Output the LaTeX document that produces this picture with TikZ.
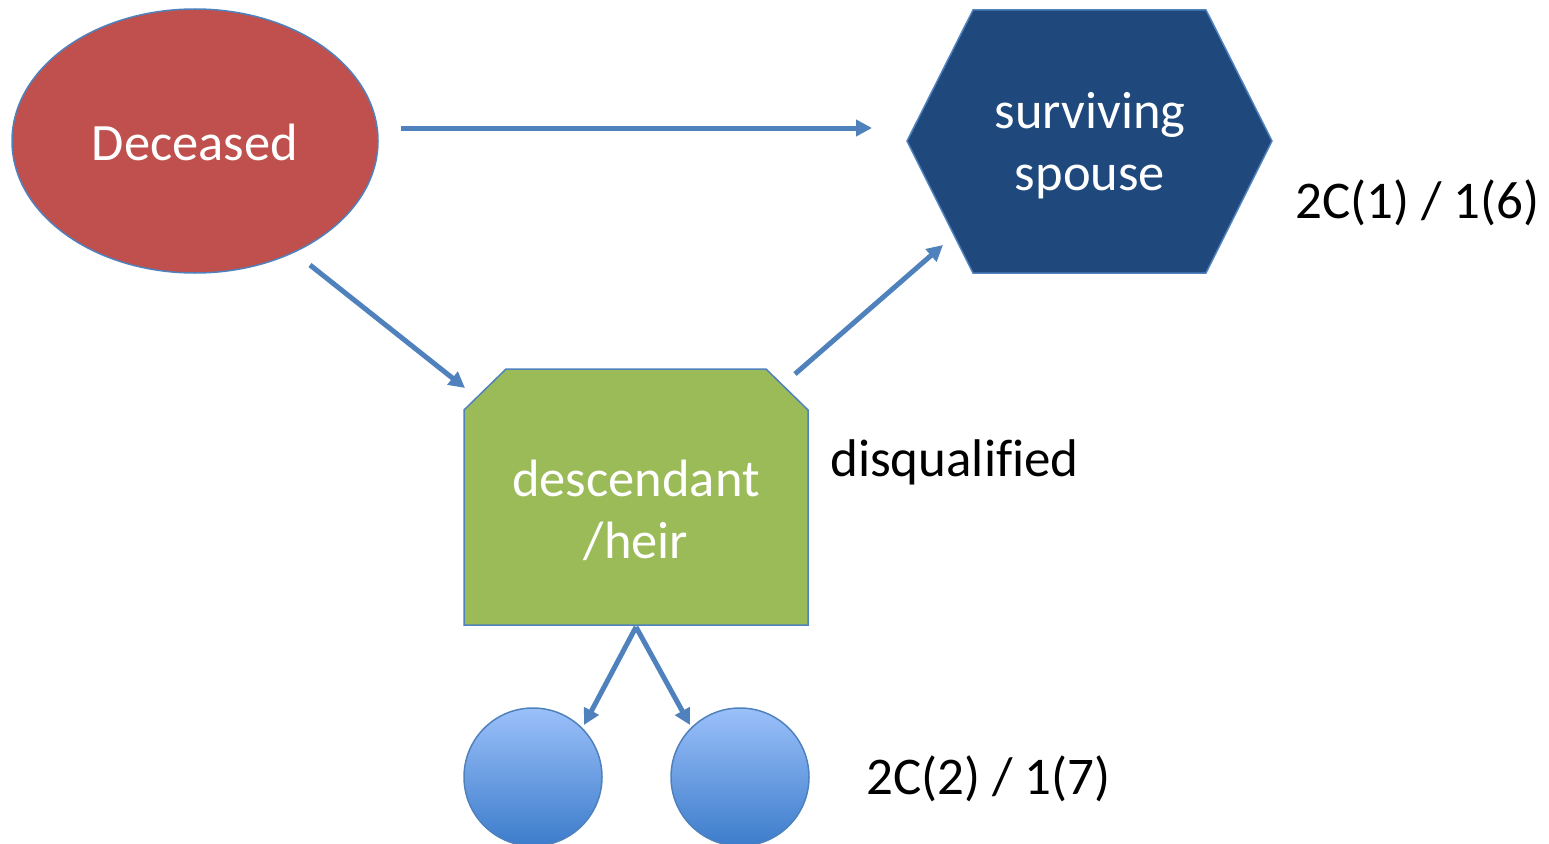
\documentclass[tikz,border=0pt]{standalone}
\usepackage{fontspec}
\setmainfont{Carlito}[Ligatures={NoCommon}]
\usetikzlibrary{arrows.meta,shapes.geometric}
\definecolor{edgeblue}{HTML}{4F81BD}
\definecolor{redfill}{HTML}{C0504D}
\definecolor{navyfill}{HTML}{1F497D}
\definecolor{greenfill}{HTML}{9BBB59}
\definecolor{balltop}{HTML}{9BC0FA}
\definecolor{ballbot}{HTML}{3C7CCB}
\tikzset{
  conn/.style={draw=edgeblue, line width=5pt, -{Triangle[length=16pt,width=16pt]}},
  shapeline/.style={draw=edgeblue, line width=1.5pt},
  intext/.style={text=white, font=\fontsize{52.5}{62}\selectfont, align=center},
  label/.style={text=black, font=\fontsize{53}{62}\selectfont, anchor=west, inner sep=0pt}
}
\begin{document}
\begin{tikzpicture}[x=1pt,y=-1pt]
\useasboundingbox (0,0) rectangle (1549,843);
% Deceased
\node[ellipse, shapeline, fill=redfill, minimum width=366pt, minimum height=264pt, inner sep=0pt] (dec) at (195,141) {};
\node[intext] (dectext) at (195,142) {Deceased};
% surviving spouse hexagon
\path[shapeline, fill=navyfill] (907,141) -- (973,10) -- (1206,10) -- (1272,141) -- (1206,273) -- (973,273) -- cycle;
\node[intext] (spouse) at (1090,146) {surviving\\spouse};
% descendant/heir
\path[shapeline, fill=greenfill] (464,410) -- (506,369) -- (766,369) -- (808,410) -- (808,625) -- (464,625) -- cycle;
\node[intext] (desc) at (636,510) {descendant\\/heir};
% balls
\node[circle, shapeline, top color=balltop, bottom color=ballbot, minimum size=138pt, inner sep=0pt] (ballL) at (533,777) {};
\node[circle, shapeline, top color=balltop, bottom color=ballbot, minimum size=138pt, inner sep=0pt] (ballR) at (740,777) {};
% labels
\node[label] (lab1) at (1295,203) {2C(1) / 1(6)};
\node[label] (lab2) at (830,462) {disqualified};
\node[label] (lab3) at (866,779) {2C(2) / 1(7)};
% connector coordinates
\coordinate (a1s) at (401,128);
\coordinate (a1e) at (872,128);
\coordinate (a2s) at (310,265);
\coordinate (a2e) at (465,388);
\coordinate (a3s) at (795,374);
\coordinate (a3e) at (943,245);
\coordinate (a4s) at (636,627);
\coordinate (a4e) at (584,725);
\coordinate (a5e) at (690,725);
\draw[conn] (a1s) -- (a1e);
\draw[conn] (a2s) -- (a2e);
\draw[conn] (a3s) -- (a3e);
\draw[conn] (a4s) -- (a4e);
\draw[conn] (a4s) -- (a5e);
\end{tikzpicture}
\end{document}
